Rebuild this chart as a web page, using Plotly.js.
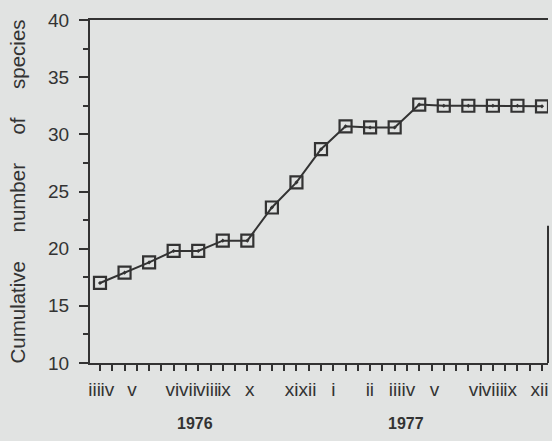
<!DOCTYPE html>
<html>
<head>
<meta charset="utf-8">
<script src="https://cdn.plot.ly/plotly-3.0.1.min.js"></script>
<style>html,body{margin:0;padding:0;background:#e1e3e2;}#chart{width:552px;height:441px;}</style>
</head>
<body>
<div id="chart"></div>
<script>
// ---- data ----
var sampleIndex = [0,1,2,3,4,5,6,7,8,9,10,11,12,13,14,15,16,17,18];
var cumulativeSpecies = [17.0,17.9,18.8,19.8,19.8,20.7,20.7,23.6,25.8,28.7,30.7,30.6,30.6,32.6,32.5,32.5,32.5,32.5,32.45];
var monthLabels1976 = ["iii","iv","v","vi","vii","viii","ix","x","xi","xii"];
var monthLabels1977 = ["i","ii","iii","iv","v","vi","viii","ix","xii"];
var yearLabels = ["1976","1977"];
var yTickVals = [10,15,20,25,30,35,40];

// ---- layout helpers (label placement along the axis, in sample units) ----
var labelPos1976 = [-0.22,0.3,1.3,2.95,3.58,4.36,5.05,6.1,7.8,8.45];
var labelPos1977 = [9.5,10.99,12.02,12.56,13.62,15.3,16.0,16.7,17.9];

var ink = '#333333';
var fontFam = 'Liberation Sans, Arial, Helvetica, sans-serif';
var gap = '\u00a0\u00a0\u00a0\u00a0\u00a0';

var trace = {
  x: sampleIndex, y: cumulativeSpecies, type: 'scatter', mode: 'lines+markers',
  line: {color: ink, width: 2},
  marker: {symbol: 'square-open-dot', size: 12, color: ink, line: {color: ink, width: 2.2}},
  hoverinfo: 'none', showlegend: false
};

var labelTrace = {
  x: [0], y: [10], xaxis: 'x2', yaxis: 'y', mode: 'markers',
  marker: {opacity: 0}, showlegend: false, hoverinfo: 'none'
};

var layout = {
  width: 552, height: 441,
  margin: {l: 90, r: 4, t: 20, b: 78},
  paper_bgcolor: '#e1e3e2', plot_bgcolor: '#e1e3e2',
  font: {family: fontFam, color: ink},
  xaxis: {
    range: [-0.407, 18.244], showgrid: false, zeroline: false,
    showline: true, linecolor: ink, linewidth: 2, mirror: true,
    ticks: 'outside', tick0: 0, dtick: 0.5, ticklen: 6, tickwidth: 2, tickcolor: ink,
    showticklabels: false
  },
  xaxis2: {
    overlaying: 'x', matches: 'x', range: [-0.407, 18.244], showgrid: false, zeroline: false,
    showline: false, ticks: '', side: 'bottom', anchor: 'y',
    tickmode: 'array', tickangle: 0, automargin: false,
    tickvals: labelPos1976.concat(labelPos1977),
    ticktext: monthLabels1976.concat(monthLabels1977),
    tickfont: {size: 19, color: ink, family: fontFam},
    ticklabelstandoff: 13
  },
  yaxis: {
    range: [10, 40], showgrid: false, zeroline: false,
    showline: true, linecolor: ink, linewidth: 2,
    tickmode: 'array', tickvals: yTickVals,
    ticks: 'outside', ticklen: 9, tickwidth: 2, tickcolor: ink,
    minor: {dtick: 2.5, tick0: 0, ticks: 'outside', ticklen: 5, tickwidth: 2, tickcolor: ink, showgrid: false},
    tickfont: {size: 19, color: ink, family: fontFam},
    ticklabelstandoff: 6,
    title: {text: 'Cumulative' + gap + 'number' + gap + 'of' + gap + 'species',
            font: {size: 20.5, color: ink, family: fontFam}, standoff: 17}
  },
  shapes: [
    {type: 'line', xref: 'paper', yref: 'y', x0: 1, x1: 1, y0: 10, y1: 22,
     line: {color: ink, width: 2}}
  ],
  annotations: [
    {text: '<b>' + yearLabels[0] + '</b>', xref: 'paper', yref: 'paper', x: 0.23, y: -0.145,
     xanchor: 'center', yanchor: 'top', showarrow: false, font: {size: 16, color: ink, family: fontFam}},
    {text: '<b>' + yearLabels[1] + '</b>', xref: 'paper', yref: 'paper', x: 0.69, y: -0.145,
     xanchor: 'center', yanchor: 'top', showarrow: false, font: {size: 16, color: ink, family: fontFam}}
  ]
};

Plotly.newPlot('chart', [trace, labelTrace], layout, {staticPlot: true, displayModeBar: false});
</script>
</body>
</html>
